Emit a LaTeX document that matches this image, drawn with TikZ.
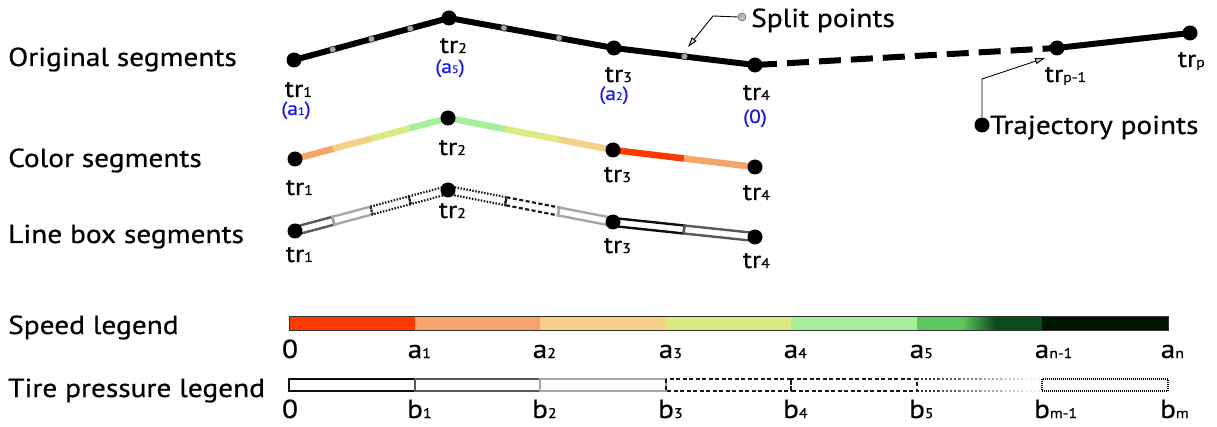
\documentclass[tikz,border=0pt]{standalone}
\usepackage{fontspec}
\setmainfont{PT Sans}[FakeBold=0.6, FakeStretch=1.13]
\usetikzlibrary{calc,arrows.meta}
\definecolor{sred}{HTML}{FF3A00}
\definecolor{sorange}{HTML}{F5A56A}
\definecolor{slorange}{HTML}{F6D084}
\definecolor{syg}{HTML}{DDEA80}
\definecolor{slgreen}{HTML}{A6EE9A}
\definecolor{sgreen}{HTML}{5DC85D}
\definecolor{sdgreen}{HTML}{0B4A1B}
\definecolor{sblack}{HTML}{021602}
\definecolor{lblue}{HTML}{1A1AE6}
\newcommand{\subsc}[1]{{\fontsize{14}{14}\selectfont #1}}
\newcommand{\subbl}[1]{{\fontsize{11}{11}\selectfont #1}}
\newcommand{\lbox}[3]{\draw[#1] ($(#2)!4pt!90:(#3)$) -- ($(#3)!4pt!-90:(#2)$) -- ($(#3)!4pt!90:(#2)$) -- ($(#2)!4pt!-90:(#3)$) -- cycle;}
\begin{document}
\begin{tikzpicture}[x=1pt,y=-1pt,
  lbl/.style={font=\fontsize{26}{30}\selectfont, anchor=base west, inner sep=0pt},
  trl/.style={font=\fontsize{24}{28}\selectfont, anchor=base, inner sep=0pt},
  bl/.style={font=\fontsize{19}{20}\selectfont, text=lblue, anchor=base, inner sep=0pt},
  dot/.style={circle, fill=black, minimum size=15pt, inner sep=0pt},
  sdot/.style={circle, fill=gray!70, draw=black!80, line width=0.6pt, minimum size=6.5pt, inner sep=0pt},
  orig/.style={line width=6pt, line join=round},
  cseg/.style={line width=6.5pt, line cap=butt},
  thin arrow/.style={line width=0.9pt, -{Triangle[open, fill=gray!40, width=6pt, length=10pt]}},
  bxk/.style={draw=black!95, line width=2.4pt},
  bxd/.style={draw=black!65, line width=2.4pt},
  bxl/.style={draw=black!35, line width=2.4pt},
  bxdash/.style={draw=black!90, line width=2.2pt, dash pattern=on 4pt off 2.5pt},
  bxdot/.style={draw=black!90, line width=2.2pt, dash pattern=on 1.5pt off 1.5pt},
  legk/.style={font=\fontsize{26}{28}\selectfont, anchor=base, inner sep=0pt}
]
\useasboundingbox (0,0) rectangle (1217,427);

% left labels
\node[lbl] (lorig) at (8,66) {Original segments};
\node[lbl] (lcol) at (8,167) {Color segments};
\node[lbl] (lbx) at (8,243) {Line box segments};
\node[lbl] (lspd) at (8,334) {Speed legend};
\node[lbl] (ltire) at (8,397) {Tire pressure legend};

% ---------- Original segments ----------
\coordinate (o1) at (294,60);
\coordinate (o2) at (449,18);
\coordinate (o3) at (614,48);
\coordinate (o4) at (755,65);
\coordinate (op1) at (1057,48);
\coordinate (op) at (1190,33);
\draw[orig] (o1) -- (o2) -- (o3) -- (o4);
\draw[orig, dash pattern=on 22pt off 10pt] (o4) -- (op1);
\draw[orig] (op1) -- (op);
\foreach \t [count=\i] in {0.25,0.5,0.75}{\node[sdot] (sa\i) at ($(o1)!\t!(o2)$) {};}
\foreach \t [count=\i] in {0.333,0.667}{\node[sdot] (sb\i) at ($(o2)!\t!(o3)$) {};}
\node[sdot] (sc1) at ($(o3)!0.5!(o4)$) {};
\foreach \p in {o1,o2,o3,o4,op1,op}{\node[dot] (\p d) at (\p) {};}
\node[trl] (to1) at ($(o1)+(0,37)$) {tr\rlap{\subsc{1}}};
\node[trl] (to2) at ($(o2)+(0,35)$) {tr\rlap{\subsc{2}}};
\node[trl] (to3) at ($(o3)+(0,34)$) {tr\rlap{\subsc{3}}};
\node[trl] (to4) at ($(o4)+(-3,35)$) {tr\rlap{\subsc{4}}};
\node[trl] (top1) at ($(op1)+(-3,34)$) {tr\rlap{\subsc{p-1}}};
\node[trl] (top) at ($(op)+(-3,34)$) {tr\rlap{\subsc{p}}};
\node[bl] (ba1) at ($(o1)+(2,55)$) {(a\subbl{1})};
\node[bl] (ba5) at ($(o2)+(1,55)$) {(a\subbl{5})};
\node[bl] (ba2) at ($(o3)+(0,52)$) {(a\subbl{2})};
\node[bl] (ba0) at ($(o4)+(0,58)$) {(0)};

% split points legend
\node[sdot, minimum size=8pt, fill=gray!55, draw=gray!80!black] (spd) at (742,17) {};
\node[lbl] (spt) at (751,27) {Split points};
\coordinate (spk) at (713,16);
\coordinate (spe) at (688,47);
\draw[thin arrow] (spd.west) -- (spk) -- (spe);

% trajectory points legend
\node[dot] (tpd) at (982,125) {};
\node[lbl] (tpt) at (990,134) {Trajectory points};
\coordinate (tpk) at (982,79);
\coordinate (tpe) at (1045,58);
\draw[thin arrow] (tpd.north) -- (tpk) -- (tpe);

% ---------- Color segments ----------
\coordinate (c1) at (295,159);
\coordinate (c2) at (448,118);
\coordinate (c3) at (613,150);
\coordinate (c4) at (755,167);
\draw[cseg, sorange] (c1) -- ($(c1)!0.25!(c2)$);
\draw[cseg, slorange] ($(c1)!0.25!(c2)$) -- ($(c1)!0.5!(c2)$);
\draw[cseg, syg] ($(c1)!0.5!(c2)$) -- ($(c1)!0.75!(c2)$);
\draw[cseg, slgreen] ($(c1)!0.75!(c2)$) -- (c2);
\draw[cseg, slgreen] (c2) -- ($(c2)!0.35!(c3)$);
\draw[cseg, syg] ($(c2)!0.35!(c3)$) -- ($(c2)!0.67!(c3)$);
\draw[cseg, slorange] ($(c2)!0.67!(c3)$) -- (c3);
\draw[cseg, sred] (c3) -- ($(c3)!0.5!(c4)$);
\draw[cseg, sorange] ($(c3)!0.5!(c4)$) -- (c4);
\foreach \p in {c1,c2,c3,c4}{\node[dot] (\p d) at (\p) {};}
\node[trl] (tc1) at ($(c1)+(0,36)$) {tr\rlap{\subsc{1}}};
\node[trl] (tc2) at ($(c2)+(0,37)$) {tr\rlap{\subsc{2}}};
\node[trl] (tc3) at ($(c3)+(0,32)$) {tr\rlap{\subsc{3}}};
\node[trl] (tc4) at ($(c4)+(-3,33)$) {tr\rlap{\subsc{4}}};

% ---------- Line box segments ----------
\coordinate (b1) at (295,231);
\coordinate (b2) at (448,190);
\coordinate (b3) at (613,222);
\coordinate (b4) at (755,237);
\coordinate (q1) at ($(b1)!0.25!(b2)$);
\coordinate (q2) at ($(b1)!0.5!(b2)$);
\coordinate (q3) at ($(b1)!0.75!(b2)$);
\coordinate (r1) at ($(b2)!0.35!(b3)$);
\coordinate (r2) at ($(b2)!0.67!(b3)$);
\coordinate (s1) at ($(b3)!0.5!(b4)$);
\lbox{bxd}{b1}{q1}
\lbox{bxl}{q1}{q2}
\lbox{bxdot}{q2}{q3}
\lbox{bxdot}{q3}{b2}
\lbox{bxdot}{b2}{r1}
\lbox{bxdash}{r1}{r2}
\lbox{bxl}{r2}{b3}
\lbox{bxk}{b3}{s1}
\lbox{bxd}{s1}{b4}
\foreach \p in {b1,b2,b3,b4}{\node[dot] (\p d) at (\p) {};}
\node[trl] (tb1) at ($(b1)+(0,31)$) {tr\rlap{\subsc{1}}};
\node[trl] (tb2) at ($(b2)+(0,28)$) {tr\rlap{\subsc{2}}};
\node[trl] (tb3) at ($(b3)+(0,31)$) {tr\rlap{\subsc{3}}};
\node[trl] (tb4) at ($(b4)+(-3,31)$) {tr\rlap{\subsc{4}}};

% ---------- Speed legend ----------
\fill[sred] (289,317) rectangle (415,330);
\fill[sorange] (415,317) rectangle (540,330);
\fill[slorange] (540,317) rectangle (666,330);
\fill[syg] (666,317) rectangle (791,330);
\fill[slgreen] (791,317) rectangle (917,330);
\fill[sgreen] (917,317) rectangle (962.5,330);
\shade[left color=sgreen, right color=sdgreen, shading angle=90] (962,317) rectangle (996,330);
\fill[sdgreen] (995.5,317) rectangle (1042,330);
\fill[sblack] (1042,317) rectangle (1168,330);
\draw[line width=1pt, black!80] (289,317) rectangle (1168,330);
\node[legk] (la0) at (290,358) {0};
\node[legk] (la1) at (415,358) {a\rlap{\subsc{1}}};
\node[legk] (la2) at (540,358) {a\rlap{\subsc{2}}};
\node[legk] (la3) at (666,358) {a\rlap{\subsc{3}}};
\node[legk] (la4) at (791,358) {a\rlap{\subsc{4}}};
\node[legk] (la5) at (917,358) {a\rlap{\subsc{5}}};
\node[legk] (lan1) at (1042,358) {a\rlap{\subsc{n-1}}};
\node[legk] (lan) at (1168,358) {a\rlap{\subsc{n}}};

% ---------- Tire pressure legend ----------
\draw[bxk] (289,379) rectangle (415,391);
\draw[bxd] (415,379) rectangle (540,391);
\draw[bxl] (540,379) rectangle (666,391);
\draw[bxdash] (666,379) rectangle (791,391);
\draw[bxdash] (791,379) rectangle (917,391);
\foreach \a/\g [count=\i] in {917/80,938/65,959/50,980/34,1001/20,1022/8}{
  \draw[line width=2.2pt, dash pattern=on 1.5pt off 2.5pt, draw=black!\g] (\a,379) -- ++(20.8,0);
  \draw[line width=2.2pt, dash pattern=on 1.5pt off 2.5pt, draw=black!\g] (\a,391) -- ++(20.8,0);
}
\draw[line width=2.4pt, dash pattern=on 1pt off 1pt, draw=black] (1042,379) rectangle (1168,391);
\node[legk] (lb0) at (290,418) {0};
\node[legk] (lb1) at (415,418) {b\rlap{\subsc{1}}};
\node[legk] (lb2) at (540,418) {b\rlap{\subsc{2}}};
\node[legk] (lb3) at (666,418) {b\rlap{\subsc{3}}};
\node[legk] (lb4) at (791,418) {b\rlap{\subsc{4}}};
\node[legk] (lb5) at (917,418) {b\rlap{\subsc{5}}};
\node[legk] (lbm1) at (1042,418) {b\rlap{\subsc{m-1}}};
\node[legk] (lbm) at (1168,418) {b\rlap{\subsc{m}}};
\end{tikzpicture}
\end{document}
